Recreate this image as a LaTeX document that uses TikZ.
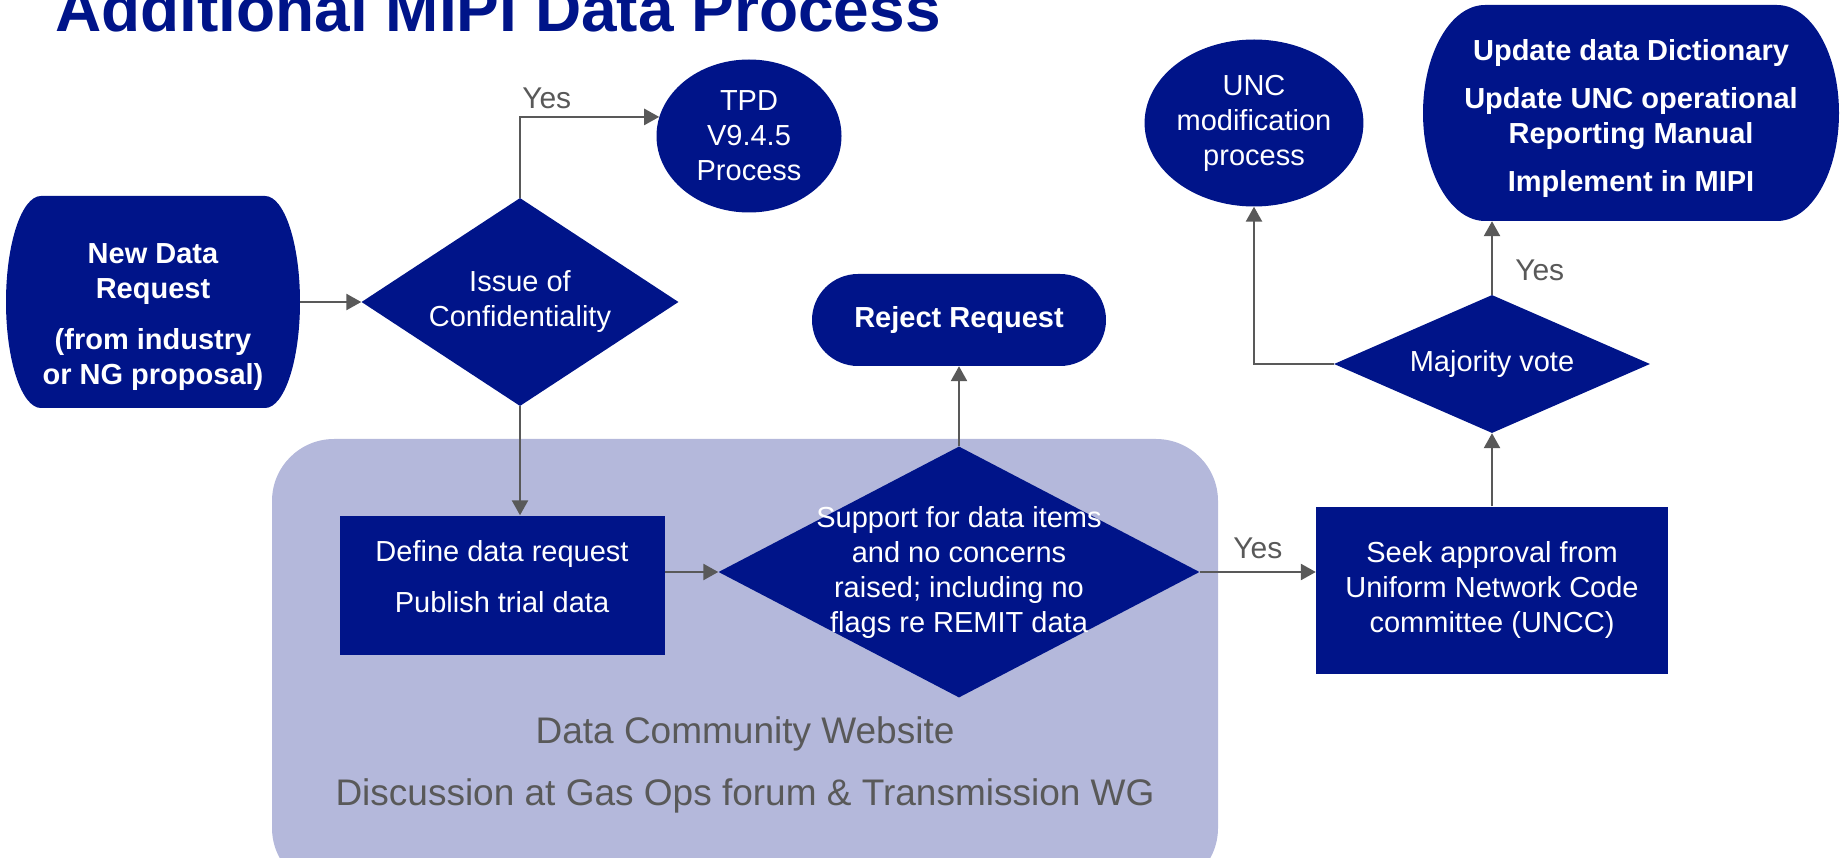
\documentclass[tikz,border=0pt]{standalone}
\usepackage{fontspec}
\setmainfont{Liberation Sans}
\usepackage{tikz}
\usetikzlibrary{calc, positioning, shapes.geometric, arrows.meta}
\usepackage{xcolor}

\definecolor{ngblue}{RGB}{0,20,137}
\definecolor{forumlilac}{RGB}{180,184,219}
\definecolor{linegray}{RGB}{89,89,89}
\newcommand{\bodysize}{\fontsize{29}{35}\selectfont}

\begin{document}
\begin{tikzpicture}[x=1pt, y=1pt]
        % Styles
        \tikzset{
          txt/.style={text=white, font=\bodysize, align=center, inner sep=0pt},
          boldtxt/.style={txt, font=\bodysize\bfseries},
          procbox/.style={rectangle, fill=ngblue, txt},
          decision/.style={diamond, fill=ngblue, inner sep=0pt},
          oval/.style={ellipse, fill=ngblue, txt},
          pill/.style={rectangle, rounded corners=46pt, fill=ngblue, boldtxt},
          capbox/.style={rectangle, boldtxt,
            path picture={
              \fill[ngblue] let \p1=(path picture bounding box.north west),
                                \p2=(path picture bounding box.south east),
                                \n1={abs(\y1-\y2)/2} in
                (\x1+#1pt,\y1) -- (\x2-#1pt,\y1)
                arc[start angle=90, end angle=-90, x radius=#1pt, y radius=\n1]
                -- (\x1+#1pt,\y2)
                arc[start angle=270, end angle=90, x radius=#1pt, y radius=\n1]
                -- cycle;
            }},
          flow/.style={draw=linegray, line width=2.5pt,
            -{Triangle[length=15pt, width=16pt]}},
          yes/.style={text=linegray, font=\fontsize{30}{36}\selectfont, inner sep=0pt},
          forum/.style={text=linegray, font=\fontsize{37}{44}\selectfont, inner sep=0pt}
        }

        % page frame (title runs off the top)
        \useasboundingbox (0,-858) rectangle (1845,0);
        \clip (0,-858) rectangle (1845,0);

        \node[anchor=base west, inner sep=0pt, text=ngblue,
              font=\fontsize{64}{70}\selectfont\bfseries] (title) at (55,-32)
          {Additional MIPI Data Process};

        % forum panel behind the middle steps
        \fill[forumlilac, rounded corners=62pt] (272,-439) rectangle (1218,-890);

        % left part
        \node[capbox=35, minimum width=294pt, minimum height=212pt,
              label={[boldtxt, yshift=-15pt]center:{New Data\\Request\\[16pt](from industry\\or NG proposal)}}]
          (newreq) at (153,-302) {};
        \node[decision, minimum width=317pt, minimum height=208pt,
              label={[txt]center:{Issue of\\Confidentiality}}] (conf) at (520,-302) {};
        \node[oval, minimum width=185pt, minimum height=153pt] (tpd) at (749,-136)
          {TPD\\V9.4.5\\Process};

        % middle part
        \node[procbox, minimum width=325pt, minimum height=139pt,
              label={[txt, yshift=8pt]center:{Define data request\\[16pt]Publish trial data}}]
          (define) at (502,-585) {};
        \node[decision, minimum width=481pt, minimum height=251pt,
              label={[txt]center:{Support for data items\\and no concerns\\raised; including no\\flags re REMIT data}}]
          (support) at (959,-572) {};
        \node[pill, minimum width=294pt, minimum height=92pt] (reject) at (959,-320)
          {Reject Request};
        \node[forum, anchor=base] (website) at (745,-743) {Data Community Website};
        \node[forum, anchor=base] (gasops) at (745,-805)
          {Discussion at Gas Ops forum \& Transmission WG};

        % right part
        \node[procbox, minimum width=352pt, minimum height=167pt] (seek) at (1492,-590)
          {Seek approval from\\Uniform Network Code\\committee (UNCC)};
        \node[decision, minimum width=316pt, minimum height=138pt,
              label={[txt]center:Majority vote}] (major) at (1492,-364) {};
        \node[oval, minimum width=216pt, minimum height=167pt] (unc) at (1254,-123)
          {UNC\\modification\\process};
        \node[capbox=62, minimum width=416pt, minimum height=216pt,
              label={[boldtxt, yshift=-6pt]center:{Update data Dictionary\\[13pt]Update UNC operational\\Reporting Manual\\[13pt]Implement in MIPI}}]
          (update) at (1631,-113) {};

        % connectors
        \draw[flow] (newreq.east) -- (conf.west);
        \draw[flow] (conf.north) |- (tpd.168)
          node[yes, pos=0.5, anchor=base west, xshift=1pt, yshift=8pt] (yestpd) {Yes};
        \draw[flow] (conf.south) -- (conf.south |- define.north);
        \draw[flow] (define.east |- support.west) -- (support.west);
        \draw[flow] (support.north) -- (reject.south);
        \draw[flow] (support.east) -- (support.east -| seek.west)
          node[yes, midway, anchor=base, yshift=14pt] (yesuncc) {Yes};
        \draw[flow] (seek.north) -- (major.south);
        \draw[flow] (major.west) -| (unc.south);
        \draw[flow] (major.north) -- (major.north |- update.south)
          node[yes, pos=0.2, anchor=base west, xshift=22pt] (yesvote) {Yes};
\end{tikzpicture}
\end{document}
